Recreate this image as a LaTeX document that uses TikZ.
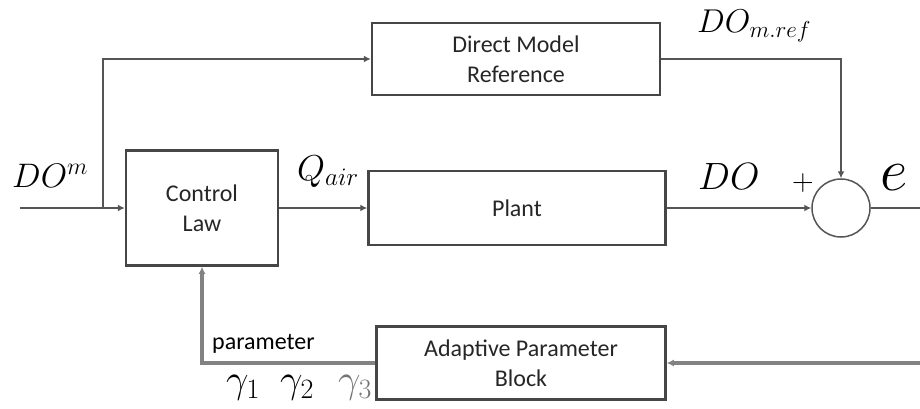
\RequirePackage{fix-cm}
\documentclass[tikz,border=0pt]{standalone}
\usepackage{fontspec}
\setmainfont{Carlito}
\usetikzlibrary{arrows.meta, positioning, calc}
\definecolor{wire}{RGB}{85,85,85}
\definecolor{frame}{RGB}{70,70,70}
\definecolor{fbline}{RGB}{130,130,130}

\begin{document}
\begin{tikzpicture}[x=1pt, y=-1pt,
  every node/.style={font=\fontsize{24}{30}\selectfont, align=center, text=black!85},
  blk/.style={draw=frame, line width=2.5pt, inner sep=0pt},
  wire/.style={draw=wire, line width=2.5pt, -{Latex[length=7pt,width=7pt]}},
  lbl/.style={anchor=base west, inner sep=0pt, text=black}]
  \useasboundingbox (0,0) rectangle (920,409);

  \node[blk, minimum width=152pt, minimum height=115pt] (ctrl) at (202,208) {Control\\Law};
  \node[blk, minimum width=297pt, minimum height=74pt] (plant) at (517,208) {Plant};
  \node[blk, minimum width=288pt, minimum height=72pt] (dmr) at (516,59) {Direct Model\\Reference};
  \node[blk, minimum width=289pt, minimum height=73pt] (adapt) at (521,363) {Adaptive Parameter\\Block};
  \node[draw=wire, line width=1.5pt, circle, minimum size=58pt, inner sep=0pt] (sum) at (841,208) {};

  \coordinate (in) at (20,208);
  \coordinate (split) at (103,208);
  \coordinate (out) at (920,208);
  \coordinate (fb) at (920,363);

  \node[lbl, font=\fontsize{34}{34}\selectfont] (dom) at (12,187) {$DO^{m}$};
  \node[lbl, font=\fontsize{36}{36}\selectfont] (qair) at (297,180) {$Q_{air}$};
  \node[lbl, font=\fontsize{38}{38}\selectfont] (do) at (698,189) {$DO$};
  \node[lbl, font=\fontsize{33}{33}\selectfont] (domref) at (697,33) {$DO_{m.ref}$};
  \node[font=\fontsize{30}{30}\selectfont, inner sep=0pt, text=black] (plus) at (803,183) {$+$};
  \node[lbl, font=\fontsize{60}{60}\selectfont] (err) at (880,190) {$e$};
  \node[lbl] (param) at (212,349) {parameter};
  \node[lbl, font=\fontsize{40}{40}\selectfont] (g1) at (226,392) {$\gamma_1$};
  \node[lbl, font=\fontsize{40}{40}\selectfont] (g2) at (280,392) {$\gamma_2$};
  \node[lbl, font=\fontsize{40}{40}\selectfont, text=black!55] (g3) at (338,392) {$\gamma_3$};

  \draw[wire] (in) -- (ctrl.west);
  \draw[wire] (split) |- (dmr.west);
  \draw[wire] (ctrl.east) -- (plant.west);
  \draw[wire] (plant.east) -- (sum.west);
  \draw[wire] (dmr.east) -| (sum.north);
  \draw[wire, -] (sum.east) -- (out);
  \draw[wire, draw=fbline, line width=4pt] (fb) -- (adapt.east);
  \draw[wire, draw=fbline, line width=3.5pt] (adapt.west) -| (ctrl.south);
\end{tikzpicture}
\end{document}
